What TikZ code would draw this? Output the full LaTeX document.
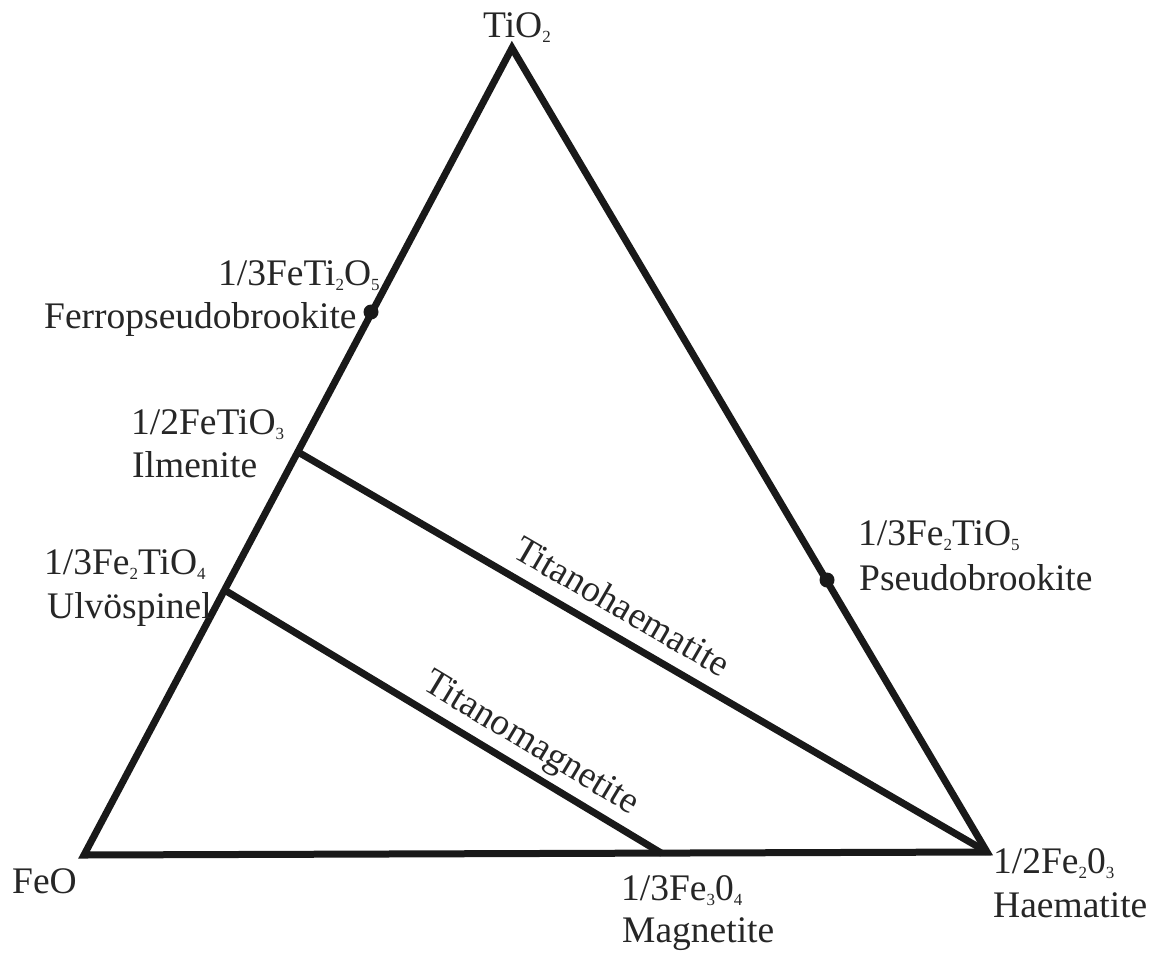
\documentclass[tikz,border=0pt]{standalone}
\usepackage{fontspec}
\setmainfont{Liberation Serif}
\usetikzlibrary{calc}
\newcommand{\sbs}[1]{\raisebox{-5pt}{\fontsize{17}{17}\selectfont #1}}
\begin{document}
\begin{tikzpicture}[x=1pt,y=-1pt,
  edge/.style={line width=7pt, line join=miter, draw=black!90},
  lbl/.style={anchor=base west, inner sep=0pt, font=\fontsize{37.5}{43}\selectfont, text=black!85},
  slbl/.style={sloped, anchor=south, inner sep=0pt, text depth=13.5pt, font=\fontsize{37.5}{43}\selectfont, text=black!85},
  dot/.style={circle, fill=black!90, inner sep=0pt, minimum size=15pt}]
\useasboundingbox (0,0) rectangle (1154,954);
\coordinate (FeO) at (84,855);
\coordinate (TiO2) at (512,48);
\coordinate (Hae) at (987,852);
\coordinate (Ilm) at (298,452);
\coordinate (Ulv) at (224.5,590);
\coordinate (Mag) at (662,853.5);
\draw[edge] (FeO) -- (TiO2) -- (Hae) -- cycle;
\draw[edge] (Ilm) -- (Hae) node[slbl, pos=0.449] (thlbl) {Titanohaematite};
\draw[edge] (Ulv) -- (Mag) node[slbl, pos=0.669] (tmlbl) {Titanomagnetite};
\node[dot] (fpb) at (371,312) {};
\node[dot] (psb) at (827,580) {};
\node[lbl] (tTiO2) at (483,37) {TiO\sbs{2}};
\node[lbl] (tFeO) at (12,893) {FeO};
\node[lbl] (tFeTi2O5) at (218,285) {1/3FeTi\sbs{2}O\sbs{5}};
\node[lbl] (tFerro) at (44,328) {Ferropseudobrookite};
\node[lbl] (tFeTiO3) at (131,434) {1/2FeTiO\sbs{3}};
\node[lbl] (tIlm) at (132,477) {Ilmenite};
\node[lbl] (tFe2TiO4) at (44,574) {1/3Fe\sbs{2}TiO\sbs{4}};
\node[lbl] (tUlv) at (47,618) {Ulvöspinel};
\node[lbl] (tFe2TiO5) at (858,545) {1/3Fe\sbs{2}TiO\sbs{5}};
\node[lbl] (tPsb) at (859,590) {Pseudobrookite};
\node[lbl] (tFe3O4) at (621,900) {1/3Fe\sbs{3}0\sbs{4}};
\node[lbl] (tMag) at (622,942) {Magnetite};
\node[lbl] (tFe2O3) at (993,873) {1/2Fe\sbs{2}0\sbs{3}};
\node[lbl] (tHae) at (993,917) {Haematite};
\end{tikzpicture}
\end{document}
